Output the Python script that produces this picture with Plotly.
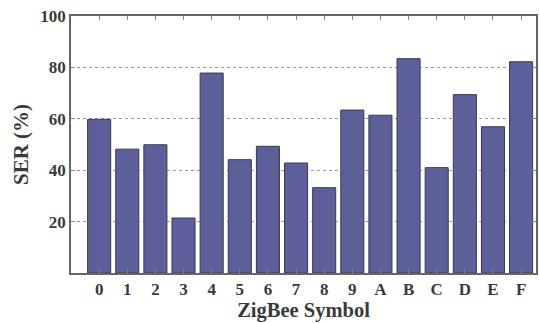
import plotly.graph_objects as go

symbols = ["0", "1", "2", "3", "4", "5", "6", "7", "8", "9", "A", "B", "C", "D", "E", "F"]
ser = [59.8, 48.2, 49.9, 21.4, 77.8, 44.1, 49.3, 42.8, 33.2, 63.4, 61.4, 83.4, 41.0, 69.4, 56.9, 82.2]
y_ticks = [20, 40, 60, 80, 100]

font_family = "Liberation Serif, Times New Roman, serif"

fig = go.Figure()
fig.add_trace(go.Bar(
    x=list(range(len(symbols))), y=ser,
    width=0.82,
    marker=dict(color="#5c5f9a", line=dict(color="#3a3a4a", width=1)),
))

fig.update_layout(
    width=539, height=323,
    margin=dict(l=71, r=1, t=16, b=50),
    plot_bgcolor="white", paper_bgcolor="white",
    showlegend=False,
    font=dict(family=font_family, color="#444444"),
    xaxis=dict(
        range=[-1.0, 15.53],
        tickmode="array",
        tickvals=list(range(len(symbols))),
        ticktext=["<b>%s</b>" % s for s in symbols],
        tickfont=dict(size=17, family=font_family, color="#3a3a3a"),
        ticks="inside", ticklen=4, tickcolor="#888888",
        showline=True, linecolor="#666666", linewidth=1.5, mirror="ticks",
        showgrid=False, zeroline=False,
        title=dict(text="<b>ZigBee Symbol</b>", font=dict(size=20.5, family=font_family, color="#3a3a3a"), standoff=3),
    ),
    yaxis=dict(
        range=[0, 100],
        tickmode="array",
        tickvals=y_ticks,
        ticktext=["<b>%d</b>" % v for v in y_ticks],
        tickfont=dict(size=17, family=font_family, color="#3a3a3a"),
        ticks="inside", ticklen=4, tickcolor="#888888",
        showline=True, linecolor="#666666", linewidth=1.5, mirror="ticks",
        showgrid=True, gridcolor="#999999", griddash="dot", gridwidth=0.8,
        zeroline=False,
        title=dict(text="<b>SER (%)</b>", font=dict(size=21, family=font_family, color="#3a3a3a"), standoff=6),
    ),
)

fig.write_html("out.html")
